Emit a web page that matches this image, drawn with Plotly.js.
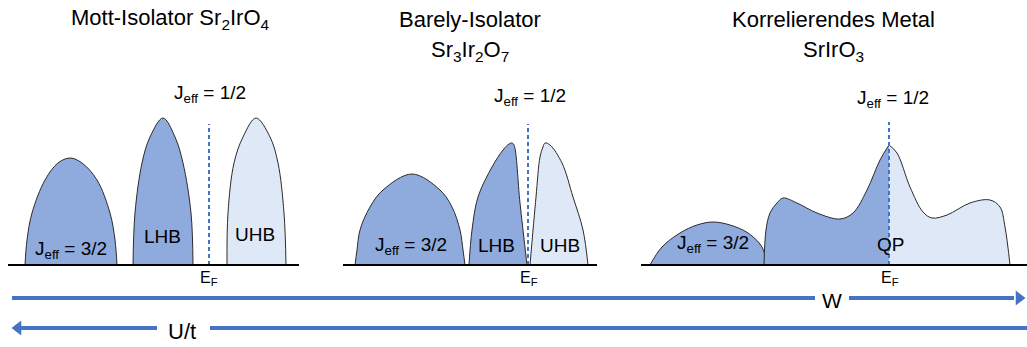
<!DOCTYPE html>
<html>
<head>
<meta charset="utf-8">
<script src="https://cdn.plot.ly/plotly-3.0.1.min.js"></script>
<style>
  html, body { margin: 0; padding: 0; background: #ffffff; }
  #chart { width: 1027px; height: 347px; }
</style>
</head>
<body>
<div id="chart"></div>
<script>
// Schematic densities of states: energy positions (E) and DOS heights (D) for every band.

// Mott insulator Sr2IrO4
const mottJ32E = [25, 27, 32, 45, 58, 70, 82, 97, 110, 115, 117];
const mottJ32D = [0, 25, 52, 85, 102, 107, 102, 85, 52, 25, 0];
const mottLhbE = [133, 135, 142, 150, 163, 175, 183, 191, 193];
const mottLhbD = [0, 52, 102, 128, 147, 128, 102, 52, 0];
const mottUhbE = [227, 228, 234, 243, 256, 270, 278, 284, 286];
const mottUhbD = [0, 52, 102, 128, 147, 128, 102, 52, 0];

// Barely insulator Sr3Ir2O7
const barelyJ32E = [355, 357, 360, 370, 383, 412, 440, 452, 460, 463, 465];
const barelyJ32D = [0, 15, 35, 58, 75, 91, 75, 58, 35, 15, 0];
const barelyLhbE = [469, 472, 478, 492, 503, 509, 512, 514, 520, 527];
const barelyLhbD = [0, 35, 68, 98, 115, 121, 122, 120, 62, 0];
const barelyUhbE = [530, 536, 540, 543, 545, 550, 562, 573, 583, 588];
const barelyUhbD = [0, 68, 108, 118, 122, 120, 102, 68, 35, 0];

// Correlated metal SrIrO3
const metalJ32E = [650, 662, 680, 697, 713, 730, 748, 762, 767];
const metalJ32D = [0, 18, 32, 40, 43, 40, 32, 18, 0];
const metalOccE = [764, 766, 770, 777, 783, 797, 817, 840, 853, 867, 880, 889];
const metalOccD = [0, 35, 52, 62, 67, 62, 52, 46, 52, 75, 105, 120];
const metalEmpE = [889, 897, 910, 923, 932, 947, 970, 990, 1000, 1005, 1010];
const metalEmpD = [120, 112, 78, 53, 47, 50, 62, 65, 58, 38, 0];

// Fermi levels and top of the dashed E_F markers
const fermiE = [209, 528, 889];
const fermiTop = [141, 141, 143];

// Energy windows of the three baselines
const baseStart = [8, 343, 641];
const baseEnd = [299, 597, 1027];

const OCC = '#8faadc';
const EMPTY = '#dee8f6';
const BLUE = '#4472c4';
const FONT = 'Liberation Sans, Arial, Helvetica, sans-serif';

function band(e, d, color) {
  return {
    x: e, y: d, type: 'scatter', mode: 'lines',
    line: { shape: 'spline', smoothing: 1, color: '#2b2b2b', width: 1 },
    fill: 'tozeroy', fillcolor: color, hoverinfo: 'skip', showlegend: false
  };
}

const traces = [
  band(mottJ32E, mottJ32D, OCC),
  band(mottLhbE, mottLhbD, OCC),
  band(mottUhbE, mottUhbD, EMPTY),
  band(barelyJ32E, barelyJ32D, OCC),
  band(barelyLhbE, barelyLhbD, OCC),
  band(barelyUhbE, barelyUhbD, EMPTY),
  band(metalJ32E, metalJ32D, OCC),
  band(metalOccE, metalOccD, OCC),
  band(metalEmpE, metalEmpD, EMPTY)
];

// dashed Fermi-level markers
fermiE.forEach(function (e, i) {
  traces.push({
    x: [e, e], y: [0, fermiTop[i]], type: 'scatter', mode: 'lines',
    line: { color: BLUE, width: 2, dash: '4px,3px' },
    hoverinfo: 'skip', showlegend: false
  });
});

// energy baselines
baseStart.forEach(function (s, i) {
  traces.push({
    x: [s, baseEnd[i]], y: [0, 0], type: 'scatter', mode: 'lines',
    line: { color: '#000000', width: 2 },
    hoverinfo: 'skip', showlegend: false
  });
});

// W arrow (pointing right) and U/t arrow (pointing left)
traces.push({
  x: [12, 815, null, 849, 1014], y: [-33, -33, null, -33, -33],
  type: 'scatter', mode: 'lines', line: { color: BLUE, width: 4 },
  hoverinfo: 'skip', showlegend: false
});
traces.push({
  x: [1019], y: [-33], type: 'scatter', mode: 'markers',
  marker: { symbol: 'triangle-right', size: 13, color: BLUE },
  hoverinfo: 'skip', showlegend: false
});
traces.push({
  x: [20, 157, null, 210, 1027], y: [-63, -63, null, -63, -63],
  type: 'scatter', mode: 'lines', line: { color: BLUE, width: 4 },
  hoverinfo: 'skip', showlegend: false
});
traces.push({
  x: [18], y: [-63], type: 'scatter', mode: 'markers',
  marker: { symbol: 'triangle-left', size: 13, color: BLUE },
  hoverinfo: 'skip', showlegend: false
});

function label(text, x, y, size) {
  return {
    text: text, x: x, y: y, xref: 'x', yref: 'y',
    xanchor: 'center', yanchor: 'middle', showarrow: false,
    font: { family: FONT, size: size, color: '#000000' }
  };
}

const JEFF12 = 'J<sub>eff</sub> = 1/2';
const JEFF32 = 'J<sub>eff</sub> = 3/2';
const EF = 'E<sub>F</sub>';

const annotations = [
  label('Mott-Isolator Sr<sub>2</sub>IrO<sub>4</sub>', 170, 246, 22),
  label('Barely-Isolator', 470, 246, 22),
  label('Sr<sub>3</sub>Ir<sub>2</sub>O<sub>7</sub>', 470, 214, 22),
  label('Korrelierendes Metal', 833, 246, 22),
  label('SrIrO<sub>3</sub>', 833, 214, 22),

  label(JEFF12, 210, 171, 19),
  label(JEFF12, 530, 168, 19),
  label(JEFF12, 893, 166, 19),

  label(JEFF32, 71, 15, 19),
  label('LHB', 162, 29, 19),
  label('UHB', 255, 31, 19),
  label(JEFF32, 411, 19, 19),
  label('LHB', 496, 20, 19),
  label('UHB', 560, 20, 19),
  label(JEFF32, 713, 21, 19),
  label('QP', 890, 21, 19),

  label(EF, 209, -13, 16),
  label(EF, 529, -13, 16),
  label(EF, 890, -13, 16),

  label('W', 832, -35, 21),
  label('U/t', 182, -66, 22)
];

const layout = {
  width: 1027, height: 347,
  margin: { l: 0, r: 0, t: 0, b: 0, pad: 0 },
  paper_bgcolor: '#ffffff', plot_bgcolor: '#ffffff',
  showlegend: false,
  xaxis: { range: [0, 1027], visible: false, fixedrange: true },
  yaxis: { range: [-82, 265], visible: false, fixedrange: true },
  annotations: annotations
};

Plotly.newPlot('chart', traces, layout, { staticPlot: true, displayModeBar: false });
</script>
</body>
</html>
